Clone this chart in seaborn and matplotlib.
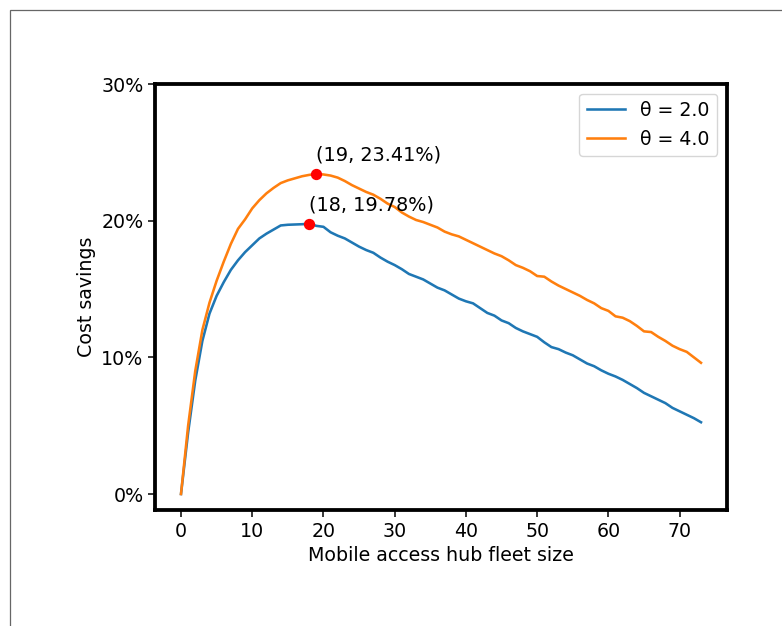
import numpy as np
import pandas as pd
import matplotlib
matplotlib.use("Agg")
import matplotlib.pyplot as plt
from matplotlib.patches import Rectangle
from matplotlib.ticker import PercentFormatter, MultipleLocator
import seaborn as sns

# Fleet sizes and cost savings (%) for the two theta settings
fleet_size = list(range(74))

savings_theta_2 = [
    0.0, 4.5, 8.3, 11.2, 13.2, 14.5, 15.5, 16.4, 17.1, 17.7,
    18.2, 18.7, 19.05, 19.35, 19.65, 19.70, 19.72, 19.74, 19.78, 19.62,
    19.55, 19.15, 18.9, 18.7, 18.4, 18.1, 17.85, 17.65, 17.3, 17.0,
    16.75, 16.45, 16.1, 15.9, 15.7, 15.4, 15.1, 14.9, 14.6, 14.3,
    14.1, 13.95, 13.6, 13.25, 13.05, 12.7, 12.5, 12.15, 11.9, 11.7,
    11.5, 11.1, 10.75, 10.6, 10.35, 10.15, 9.85, 9.55, 9.35, 9.05,
    8.8, 8.6, 8.35, 8.05, 7.75, 7.4, 7.15, 6.9, 6.65, 6.3,
    6.05, 5.8, 5.55, 5.25,
]

savings_theta_4 = [
    0.0, 5.0, 9.0, 12.0, 14.0, 15.6, 17.0, 18.3, 19.4, 20.1,
    20.9, 21.5, 22.0, 22.4, 22.75, 22.95, 23.1, 23.25, 23.35, 23.41,
    23.38, 23.3, 23.15, 22.9, 22.6, 22.35, 22.1, 21.9, 21.6, 21.25,
    21.0, 20.6, 20.3, 20.05, 19.9, 19.7, 19.5, 19.2, 19.0, 18.85,
    18.6, 18.35, 18.1, 17.85, 17.6, 17.4, 17.1, 16.75, 16.55, 16.3,
    15.95, 15.9, 15.55, 15.25, 15.0, 14.75, 14.5, 14.2, 13.95, 13.6,
    13.4, 13.0, 12.9, 12.65, 12.3, 11.9, 11.85, 11.5, 11.2, 10.85,
    10.6, 10.4, 10.0, 9.6,
]

series_labels = ["θ = 2.0", "θ = 4.0"]
series_values = [savings_theta_2, savings_theta_4]

df = pd.concat(
    [pd.DataFrame({"fleet": fleet_size, "savings": vals, "theta": lab})
     for lab, vals in zip(series_labels, series_values)],
    ignore_index=True,
)

S = 1.37  # point scaling for the output resolution
plt.rcParams["font.family"] = ["DejaVu Sans"]
plt.rcParams["font.size"] = 10 * S

fig = plt.figure(figsize=(7.82, 6.26), dpi=100)
fig.patches.append(Rectangle((10 / 782, -0.1), 1.2, 1.1 - 10 / 626,
                             transform=fig.transFigure, fill=False,
                             edgecolor="#666666", linewidth=0.9))
ax = fig.add_axes([155 / 782, (626 - 510) / 626, (727 - 155) / 782, (510 - 84) / 626])

sns.lineplot(data=df, x="fleet", y="savings", hue="theta",
             palette=["#1f77b4", "#ff7f0e"], linewidth=1.35 * S, ax=ax)

# Mark and label the peak of each curve
for vals in series_values:
    i = int(np.argmax(vals))
    ax.plot(fleet_size[i], vals[i], "o", color="red", markersize=5.2 * S, zorder=5)
    ax.text(fleet_size[i], vals[i] + 1, f"({fleet_size[i]}, {vals[i]:.2f}%)",
            fontsize=10.1 * S)

ax.set_ylim(top=30)
ax.yaxis.set_major_locator(MultipleLocator(10))
ax.yaxis.set_major_formatter(PercentFormatter(xmax=100, decimals=0))
ax.xaxis.set_major_locator(MultipleLocator(10))
ax.set_xlabel("Mobile access hub fleet size", fontsize=10 * S)
ax.set_ylabel("Cost savings", fontsize=10 * S)
ax.tick_params(labelsize=10 * S, length=3.5 * S, width=0.8 * S)
for sp in ax.spines.values():
    sp.set_linewidth(2.0 * S)
    sp.set_color("black")

handles, labels = ax.get_legend_handles_labels()
ax.legend(handles, labels, loc="upper right", fontsize=10 * S, title=None)

fig.savefig("out.png", dpi=100)
